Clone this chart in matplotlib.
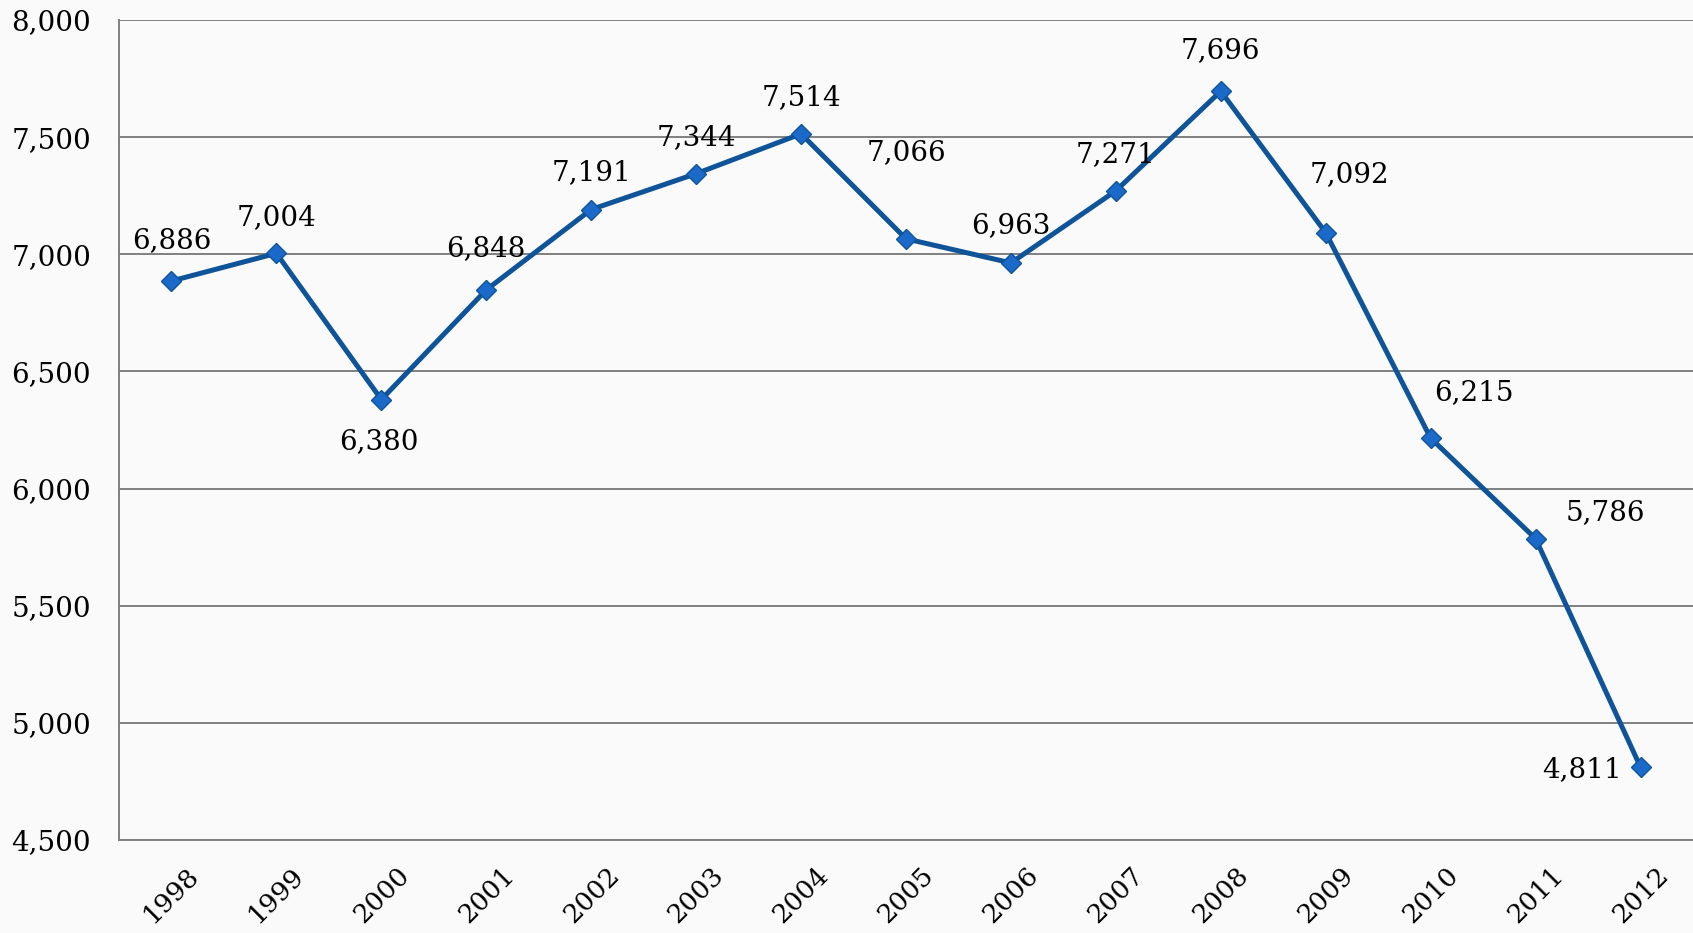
import matplotlib.pyplot as plt
from matplotlib.ticker import FuncFormatter

# データ
years = ["1998", "1999", "2000", "2001", "2002", "2003", "2004", "2005",
         "2006", "2007", "2008", "2009", "2010", "2011", "2012"]
values = [6886, 7004, 6380, 6848, 7191, 7344, 7514, 7066,
          6963, 7271, 7696, 7092, 6215, 5786, 4811]

# ラベルの位置 (offset points)
label_offsets = [(0, 29), (0, 26), (-1.5, -30), (0, 30), (0, 26.5), (0, 26),
                 (0, 26), (0, 62), (0, 27), (0, 26), (0, 29), (17, 42),
                 (31, 33), (50, 19), (-42, -2)]

plt.rcParams['font.family'] = ['DejaVu Serif']

fig = plt.figure(figsize=(16.93, 9.33), dpi=100)
fig.patch.set_facecolor('#fafafa')
ax = fig.add_axes([0.0703, 0.0997, 0.9297, 0.8789])
ax.set_facecolor('#fafafa')

x = list(range(len(years)))
ax.plot(x, values, color='#0f5499', linewidth=3.6, marker='D', markersize=10.5,
        markerfacecolor='#1b6ac9', markeredgecolor='#0f5499', markeredgewidth=1,
        zorder=3)

for i, v in enumerate(values):
    dx, dy = label_offsets[i]
    ax.annotate(f"{v:,}", (i, v), xytext=(dx, dy), textcoords='offset points',
                ha='center', va='center', fontsize=20, color='black')

ax.set_xlim(-0.5, len(years) - 0.5)
ax.set_ylim(4500, 8000)
ax.set_yticks(range(4500, 8001, 500))
ax.yaxis.set_major_formatter(FuncFormatter(lambda v, p: f"{int(v):,}"))
ax.set_xticks(x)
ax.set_xticklabels(years, rotation=45, ha='center', fontsize=19)

ax.grid(axis='y', color='#808080', linewidth=1.4)
ax.set_axisbelow(True)
ax.tick_params(axis='y', length=0, pad=20, labelsize=20, labelcolor='black')
ax.tick_params(axis='x', length=0, pad=16, labelcolor='black')
for s in ['top', 'right']:
    ax.spines[s].set_visible(False)
for s in ['left', 'bottom']:
    ax.spines[s].set_color('#808080')
    ax.spines[s].set_linewidth(1.4)

plt.savefig("out.png", dpi=100, facecolor=fig.get_facecolor())
